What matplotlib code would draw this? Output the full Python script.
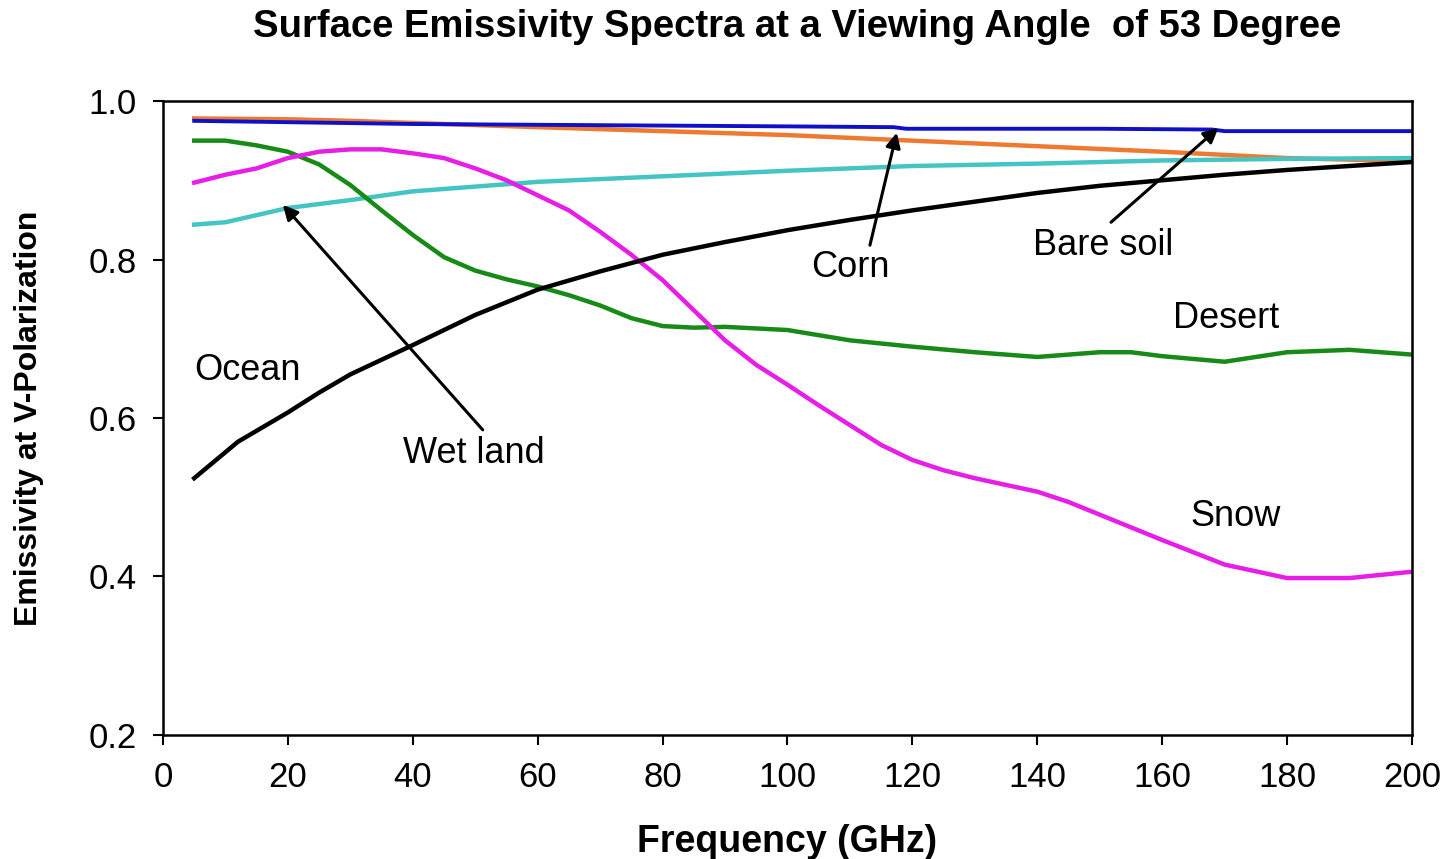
"""
Surface emissivity spectra at V-polarization, 53 degree viewing angle.
"""
import matplotlib
matplotlib.use('Agg')
import matplotlib.pyplot as plt

plt.rcParams['font.family'] = ['Liberation Sans', 'DejaVu Sans']

# Values (frequency in GHz, emissivity)
bare_soil_f = [5, 20, 30, 45, 60, 80, 100, 120, 140, 160, 170, 180, 190, 200]
bare_soil_e = [0.978, 0.977, 0.975, 0.971, 0.967, 0.962, 0.957, 0.950, 0.943, 0.936, 0.932, 0.928, 0.926, 0.924]

wetland_f = [5, 10, 15, 20, 30, 40, 60, 80, 100, 120, 140, 160, 180, 200]
wetland_e = [0.844, 0.847, 0.856, 0.865, 0.875, 0.886, 0.898, 0.905, 0.912, 0.918, 0.921, 0.925, 0.927, 0.928]

ocean_f = [5, 12, 20, 25, 30, 40, 50, 60, 70, 80, 90, 100, 110, 120, 130, 140, 150, 160, 170, 180, 190, 200]
ocean_e = [0.524, 0.570, 0.607, 0.632, 0.655, 0.692, 0.730, 0.762, 0.785, 0.806, 0.822, 0.837, 0.850, 0.862, 0.873, 0.884, 0.893, 0.900, 0.907, 0.913, 0.918, 0.923]

corn_f = [5, 40, 100, 117, 119, 150, 168, 170, 200]
corn_e = [0.975, 0.971, 0.968, 0.967, 0.965, 0.965, 0.964, 0.962, 0.962]

desert_f = [5, 10, 15, 20, 25, 30, 35, 40, 45, 50, 55, 60, 65, 70, 75, 80, 85, 90, 100, 110,
            120, 130, 140, 150, 155, 160, 170, 180, 190, 200]
desert_e = [0.950, 0.950, 0.944, 0.936, 0.920, 0.894, 0.862, 0.831, 0.803, 0.786, 0.775, 0.766,
            0.755, 0.742, 0.726, 0.716, 0.714, 0.715, 0.711, 0.698, 0.690, 0.683, 0.677, 0.683,
            0.683, 0.678, 0.671, 0.683, 0.686, 0.680]

snow_f = [5, 10, 15, 20, 25, 30, 35, 40, 45, 50, 55, 60, 65, 70, 75, 80, 85, 90, 95, 100, 105,
          110, 115, 120, 125, 130, 140, 145, 150, 160, 170, 180, 190, 200]
snow_e = [0.897, 0.907, 0.915, 0.928, 0.936, 0.939, 0.939, 0.934, 0.928, 0.915, 0.900, 0.881,
          0.862, 0.835, 0.806, 0.774, 0.736, 0.698, 0.667, 0.642, 0.616, 0.591, 0.566, 0.547,
          0.534, 0.524, 0.507, 0.494, 0.478, 0.446, 0.415, 0.398, 0.398, 0.406]

x_ticks = [0, 20, 40, 60, 80, 100, 120, 140, 160, 180, 200]
y_ticks = [0.2, 0.4, 0.6, 0.8, 1.0]

fig = plt.figure(figsize=(14.5, 8.59), dpi=100)
ax = fig.add_axes([0.1124, 0.1444, 0.8614, 0.738])

lw = 3.2
ax.plot(bare_soil_f, bare_soil_e, color='#EE7A30', lw=lw, solid_joinstyle='round')
ax.plot(wetland_f, wetland_e, color='#45C4C4', lw=lw, solid_joinstyle='round')
ax.plot(corn_f, corn_e, color='#1010C8', lw=2.8, solid_joinstyle='round')
ax.plot(desert_f, desert_e, color='#178A17', lw=lw, solid_joinstyle='round')
ax.plot(snow_f, snow_e, color='#E61EE6', lw=lw, solid_joinstyle='round')
ax.plot(ocean_f, ocean_e, color='black', lw=lw, solid_joinstyle='round')

ax.set_xlim(0, 200)
ax.set_ylim(0.2, 1.0)
ax.set_xticks(x_ticks)
ax.set_yticks(y_ticks)
ax.set_yticklabels([f'{v:.1f}' for v in y_ticks])
ax.tick_params(direction='out', length=7, width=1.5, labelsize=25)
ax.tick_params(axis='x', pad=12)
ax.tick_params(axis='y', pad=12)
for s in ax.spines.values():
    s.set_linewidth(1.8)

ax.set_xlabel('Frequency (GHz)', fontsize=27, fontweight='bold')
ax.xaxis.set_label_coords(0.5, -0.14)
ax.set_ylabel('Emissivity at V-Polarization', fontsize=23, fontweight='bold')
ax.yaxis.set_label_coords(-0.095, 0.5)
fig.text(0.55, 1 - 27 / 859, 'Surface Emissivity Spectra at a Viewing Angle  of 53 Degree',
         fontsize=27.5, fontweight='bold', ha='center', va='center')

arrow = dict(arrowstyle='-|>', color='black', lw=2.2, mutation_scale=22, shrinkA=0, shrinkB=0)
txt = dict(fontsize=26)
ax.annotate('', xy=(117.5, 0.960), xytext=(113.2, 0.818), arrowprops=arrow)
ax.text(110.0, 0.790, 'Corn', ha='center', va='center', **txt)
ax.annotate('', xy=(169.0, 0.966), xytext=(151.8, 0.847), arrowprops=arrow)
ax.text(150.5, 0.818, 'Bare soil', ha='center', va='center', **txt)
ax.annotate('', xy=(19.2, 0.869), xytext=(51.2, 0.585), arrowprops=arrow)
ax.text(49.8, 0.555, 'Wet land', ha='center', va='center', **txt)
ax.text(5.0, 0.660, 'Ocean', ha='left', va='center', **txt)
ax.text(170.2, 0.725, 'Desert', ha='center', va='center', **txt)
ax.text(171.8, 0.476, 'Snow', ha='center', va='center', **txt)

fig.savefig('out.png', dpi=100)
